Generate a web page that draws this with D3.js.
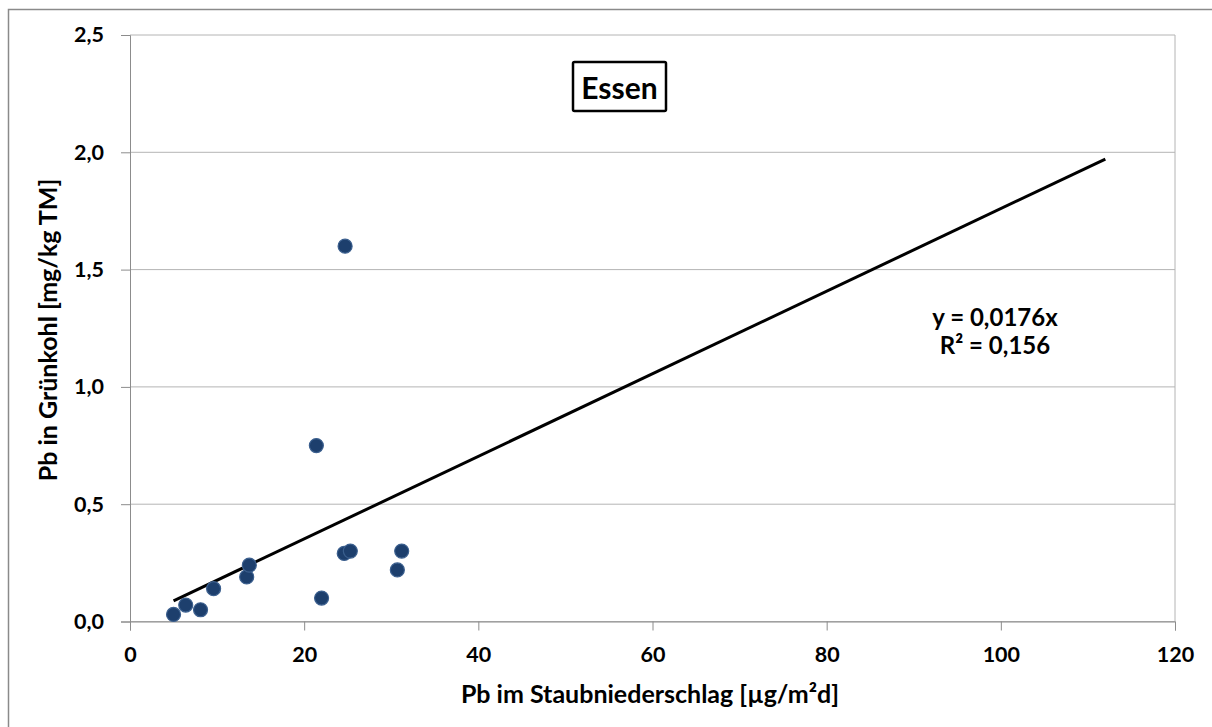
<!DOCTYPE html>
<html><head><meta charset="utf-8">
<script src="https://cdn.jsdelivr.net/npm/d3@7"></script>
<style>body{margin:0;background:#fff}svg text{font-family:Lato,"Open Sans",sans-serif;font-weight:bold;fill:#000}</style>
</head><body>
<svg id="c" width="1212" height="727"></svg>
<script>
const xTicks = [0,20,40,60,80,100,120];
const yTicks = [0,0.5,1.0,1.5,2.0,2.5];
const xValues = [5.0,6.4,8.1,9.6,13.4,13.7,21.4,22.0,24.6,24.7,25.3,30.7,31.2];
const yValues = [0.03,0.07,0.05,0.14,0.19,0.24,0.75,0.10,0.29,1.60,0.30,0.22,0.30];
const slope = 0.0176;
const trendRange = [5.0,112];
const title = "Essen";
const eqLines = ["y = 0,0176x","R² = 0,156"];

const svg = d3.select("#c");
svg.append("rect").attr("x",8.5).attr("y",9.5).attr("width",1210).attr("height",730)
  .attr("fill","none").attr("stroke","#8a8a8a").attr("stroke-width",1.5);

const L=130,R=1175,T=35,B=621.5;
const x = d3.scaleLinear().domain([0,120]).range([L,R]);
const y = d3.scaleLinear().domain([0,2.5]).range([B,T]);
const fmt = d=>d3.format(".1f")(d).replace(".",",");

// gridlines
svg.append("g").selectAll("line").data(yTicks).join("line")
  .attr("x1",L).attr("x2",R).attr("y1",d=>y(d)).attr("y2",d=>y(d))
  .attr("stroke","#b4b4b4").attr("stroke-width",1);
// right border
svg.append("line").attr("x1",R).attr("x2",R).attr("y1",T).attr("y2",B).attr("stroke","#b4b4b4");

// y axis
const ya = svg.append("g").attr("transform",`translate(${L},0)`)
  .call(d3.axisLeft(y).tickValues(yTicks).tickFormat(fmt).tickSize(9).tickPadding(17));
ya.select(".domain").attr("stroke","#8c8c8c");
ya.selectAll(".tick line").attr("stroke","#8c8c8c");
ya.selectAll("text").style("font-size","21.5px");

// x axis
const xa = svg.append("g").attr("transform",`translate(0,${B})`)
  .call(d3.axisBottom(x).tickValues(xTicks).tickFormat(d3.format("d")).tickSize(9).tickPadding(16));
xa.select(".domain").attr("stroke","#8c8c8c");
xa.selectAll(".tick line").attr("stroke","#8c8c8c");
xa.selectAll("text").style("font-size","21.5px");

// axis titles
svg.append("text").attr("x",650).attr("y",703).attr("text-anchor","middle")
  .style("font-size","25px").text("Pb im Staubniederschlag [µg/m²d]");
svg.append("text").attr("transform","translate(57,330) rotate(-90)").attr("text-anchor","middle")
  .style("font-size","25px").text("Pb in Grünkohl [mg/kg TM]");

// trendline
svg.append("line").attr("x1",x(trendRange[0])).attr("y1",y(slope*trendRange[0]))
  .attr("x2",x(trendRange[1])).attr("y2",y(slope*trendRange[1]))
  .attr("stroke","#000").attr("stroke-width",3);

// points
svg.append("g").selectAll("circle").data(xValues.map((v,i)=>[v,yValues[i]])).join("circle")
  .attr("cx",d=>x(d[0])).attr("cy",d=>y(d[1])).attr("r",7)
  .attr("fill","#1d3f6d").attr("stroke","#3b5f8e").attr("stroke-width",1.2);

// title box
svg.append("rect").attr("x",573).attr("y",62).attr("width",93).attr("height",49)
  .attr("fill","#fff").attr("stroke","#000").attr("stroke-width",2.5).attr("rx",1.5);
svg.append("text").attr("x",619.5).attr("y",99).attr("text-anchor","middle")
  .style("font-size","30px").text(title);

// equation
svg.append("text").attr("x",995).attr("y",326).attr("text-anchor","middle").style("font-size","24px").text(eqLines[0]);
svg.append("text").attr("x",995).attr("y",354).attr("text-anchor","middle").style("font-size","24px").text(eqLines[1]);
</script>
</body></html>
